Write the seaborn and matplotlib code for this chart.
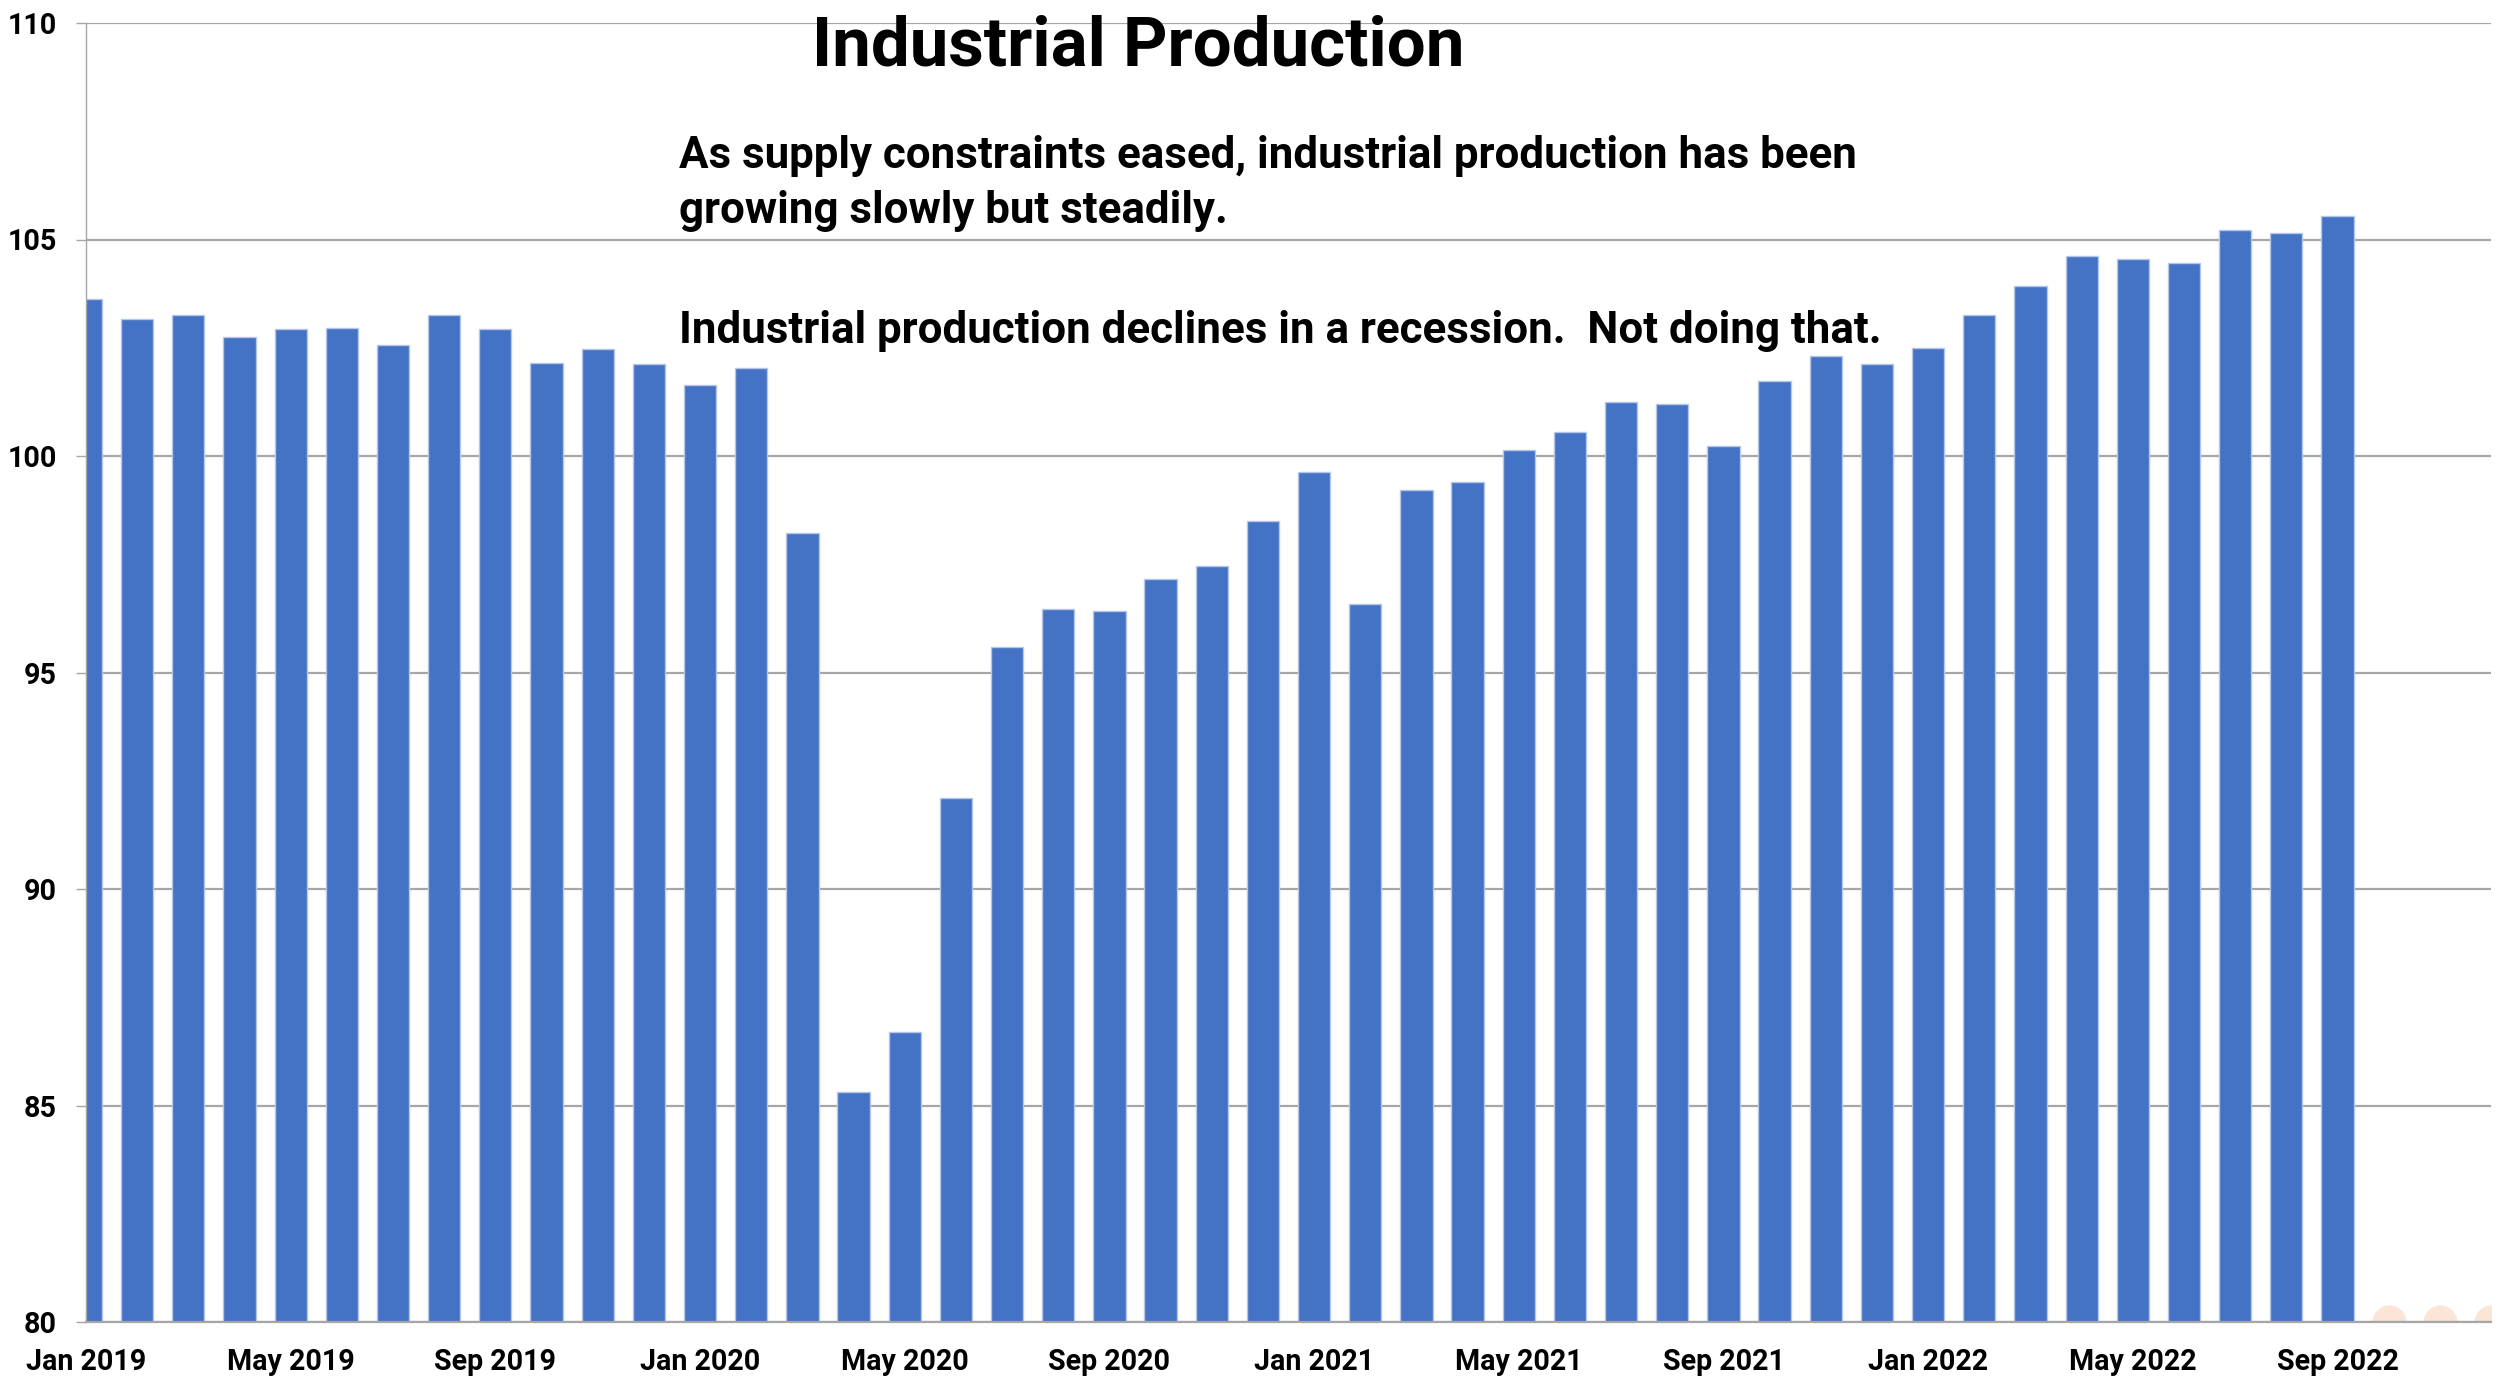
import numpy as np
import pandas as pd
import matplotlib
matplotlib.use("Agg")
import matplotlib.pyplot as plt
from matplotlib import font_manager
import seaborn as sns

# ---------------- data ----------------
months = [d.strftime("%b %Y") for d in pd.date_range("2019-01-01", periods=45, freq="MS")]
production = [
    103.63, 103.17, 103.26, 102.74, 102.93, 102.95, 102.56, 103.26, 102.93, 102.14, 102.46, 102.12,
    101.65, 102.04, 98.22, 85.32, 86.69, 92.11, 95.59, 96.47, 96.42, 97.17, 97.46, 98.49,
    99.62, 96.59, 99.22, 99.39, 100.14, 100.55, 101.24, 101.19, 100.22, 101.73, 102.32, 102.12,
    102.50, 103.26, 103.93, 104.63, 104.55, 104.45, 105.21, 105.14, 105.54,
]
tick_labels = ["Jan 2019", "May 2019", "Sep 2019", "Jan 2020", "May 2020", "Sep 2020",
               "Jan 2021", "May 2021", "Sep 2021", "Jan 2022", "May 2022", "Sep 2022"]
y_ticks = [80, 85, 90, 95, 100, 105, 110]
placeholder_months = [45, 46, 47]   # empty Oct-Dec 2022 slots (faint markers)
title = "Industrial Production"
notes = ["As supply constraints eased, industrial production has been",
         "growing slowly but steadily.",
         "Industrial production declines in a recession.  Not doing that."]

df = pd.DataFrame({"month": months, "value": production})

# ---------------- style ----------------
sns.set_theme(style="white")
avail = {f.name for f in font_manager.fontManager.ttflist}
fam = "Roboto" if "Roboto" in avail else "Liberation Sans"
plt.rcParams["font.family"] = [fam, "DejaVu Sans"]
plt.rcParams["font.weight"] = "bold"

W, H = 2506, 1379
fig = plt.figure(figsize=(W / 100, H / 100), dpi=100)
fig.patch.set_facecolor("white")
ax_l, ax_r, ax_t, ax_b = 86, 2491, 23, 1322
ax = fig.add_axes([ax_l / W, 1 - ax_b / H, (ax_r - ax_l) / W, (ax_b - ax_t) / H])

sns.barplot(data=df, x="month", y="value", color="#4472C4", saturation=1,
            width=0.63, edgecolor="#b4c7e7", linewidth=1, ax=ax)
ax.scatter(placeholder_months, [80] * len(placeholder_months), s=600,
           color="#fbe5d6", linewidth=0, zorder=0.5, clip_on=True)

ax.set_xlim(0, 47)
ax.set_ylim(80, 110)
ax.set_yticks(y_ticks)
ax.set_xticks(list(range(0, 45, 4)))
ax.set_xticklabels(tick_labels)
ax.set_xlabel("")
ax.set_ylabel("")

grid_c = "#a6a6a6"
ax.set_axisbelow(True)
ax.yaxis.grid(True, color=grid_c, linewidth=1.6)
ax.xaxis.grid(False)
for s in ["top", "right"]:
    ax.spines[s].set_visible(False)
ax.spines["left"].set_color(grid_c)
ax.spines["left"].set_linewidth(1.0)
ax.spines["bottom"].set_color(grid_c)
ax.spines["bottom"].set_linewidth(1.6)

ax.tick_params(axis="x", direction="in", length=7, width=1, color=grid_c, pad=19,
               bottom=True)
ax.tick_params(axis="y", direction="out", length=7, width=1, color=grid_c, pad=14,
               left=True)

fig.canvas.draw()
renderer = fig.canvas.get_renderer()


def fit_size(text, target_w, base=20):
    t = fig.text(0, 0, text, fontsize=base, fontweight="bold")
    w = t.get_window_extent(renderer).width
    t.remove()
    return base * target_w / w


tick_fs = fit_size("Jan 2019", 120)
for lab in ax.get_xticklabels() + ax.get_yticklabels():
    lab.set_fontsize(tick_fs)
    lab.set_fontweight("bold")
    lab.set_color("black")

# title and notes (left x, baseline y, target width in px)
title_fs = fit_size(title, 1463 - 812)
fig.text(812 / W, 1 - 65 / H, title, fontsize=title_fs, fontweight="bold",
         ha="left", va="baseline", color="black")
note_fs = fit_size(notes[0], 1854 - 679)
for txt, base_y in zip(notes, [168, 223, 343]):
    fig.text(679 / W, 1 - base_y / H, txt, fontsize=note_fs, fontweight="bold",
             ha="left", va="baseline", color="black")

fig.savefig("out.png", dpi=100, facecolor="white")
